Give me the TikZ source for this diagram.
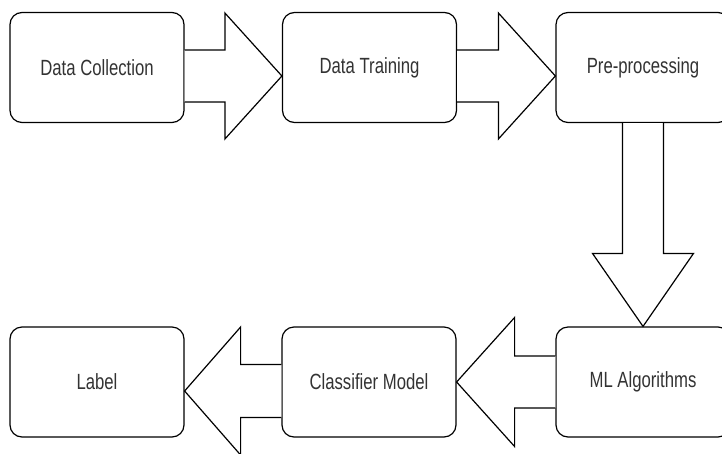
\documentclass[tikz,border=0pt]{standalone}
\usepackage{fontspec}
\setmainfont[FakeStretch=0.76]{Liberation Sans}
\usetikzlibrary{calc}
\tikzset{
	stage/.style={draw, line width=1.2pt, rounded corners=12pt, fill=white,
		minimum width=174pt, minimum height=110pt, inner sep=0pt,
		text=black!80, font=\fontsize{22}{26}\selectfont},
	bigarrow/.style={draw, line width=1.2pt, fill=white, line join=miter},
}

\begin{document}
\begin{tikzpicture}[x=1pt,y=-1pt]
	\useasboundingbox (0,0) rectangle (722,453);
	\clip (0,0) rectangle (722,453);

	\node[stage] (collect) at (97,67.5) {Data Collection};
	\node[stage] (train) at (369.5,67.5) {Data Training};
	\node[stage] (prep) at (643,67.5) {Pre-processing};
	\node[stage] (mlalg) at (643,382) {ML Algorithms};
	\node[stage] (model) at (369,382) {Classifier Model};
	\node[stage] (label) at (97,382) {Label};

	% top row
	\draw[bigarrow] ($(collect.east)+(0,-17.5)$) -- ($(train.west)+(-57,-17.5)$) -- ($(train.west)+(-57,-54.5)$)
		-- ($(train.west)+(0,8.5)$) -- ($(train.west)+(-57,71.5)$) -- ($(train.west)+(-57,34.5)$) -- ($(collect.east)+(0,34.5)$);
	\draw[bigarrow] ($(train.east)+(0,-17.5)$) -- ($(prep.west)+(-57,-17.5)$) -- ($(prep.west)+(-57,-54.5)$)
		-- ($(prep.west)+(0,8.5)$) -- ($(prep.west)+(-57,71.5)$) -- ($(prep.west)+(-57,34.5)$) -- ($(train.east)+(0,34.5)$);

	% down
	\draw[bigarrow] ($(prep.south)+(-20.5,0)$) -- ($(mlalg.north)+(-20.5,-73)$) -- ($(mlalg.north)+(-50.5,-73)$)
		-- (mlalg.north) -- ($(mlalg.north)+(50.5,-73)$) -- ($(mlalg.north)+(20.5,-73)$) -- ($(prep.south)+(20.5,0)$);

	% bottom row
	\draw[bigarrow] ($(mlalg.west)+(0,-26)$) -- ($(model.east)+(58,-26)$) -- ($(model.east)+(58,-64.5)$)
		-- (model.east) -- ($(model.east)+(58,64.5)$) -- ($(model.east)+(58,26)$) -- ($(mlalg.west)+(0,26)$);
	\draw[bigarrow] ($(model.west)+(0,-17.5)$) -- ($(label.east)+(56,-17.5)$) -- ($(label.east)+(56,-55)$)
		-- ($(label.east)+(0,9)$) -- ($(label.east)+(56,73)$) -- ($(label.east)+(56,35.5)$) -- ($(model.west)+(0,35.5)$);
\end{tikzpicture}
\end{document}
